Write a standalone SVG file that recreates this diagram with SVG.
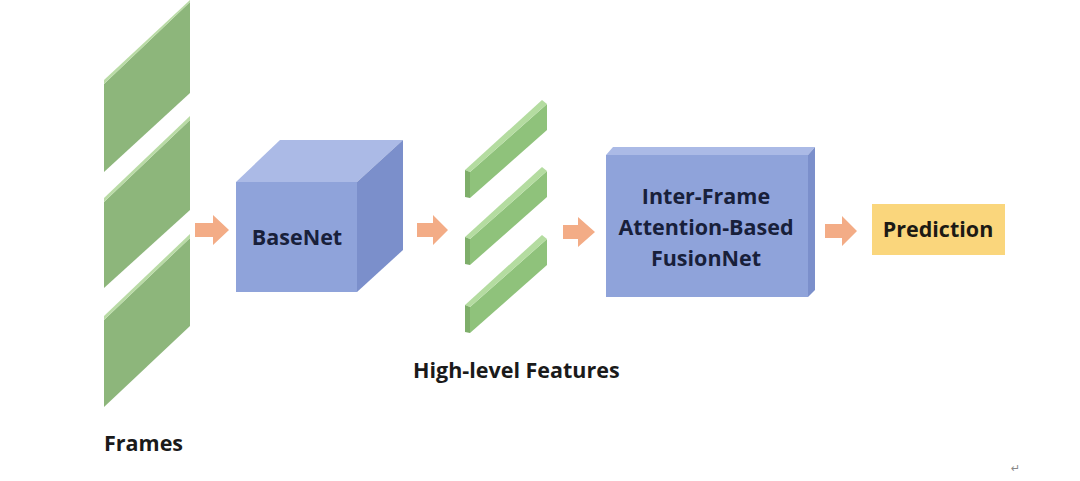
<svg xmlns="http://www.w3.org/2000/svg" width="1080" height="481" viewBox="0 0 1080 481">
  <style>
    .lbl { font-family: "Open Sans", "Liberation Sans", sans-serif; font-weight: 700; font-size: 21.5px; fill: #1a1a1a; }
    .boxlbl { font-family: "Open Sans", "Liberation Sans", sans-serif; font-weight: 700; font-size: 21.5px; fill: #18203a; text-anchor: middle; }
    .frame { fill: #8db67b; }
    .frame-edge { fill: #b9dba5; }
    .bar { fill: #8fc27b; }
    .bar-top { fill: #b4dca0; }
    .bar-end { fill: #7eae6a; }
    .front { fill: #8fa3da; }
    .top { fill: #abbae6; }
    .side { fill: #7b8fcb; }
    .arrow { fill: #f3ac86; }
  </style>
  <rect width="1080" height="481" fill="#ffffff"/>

  <g id="frames">
    <polygon class="frame" points="104,84 190,2 190,93 104,172"/>
    <polygon class="frame-edge" points="104,84 190,2 190,0 104,80"/>
    <polygon class="frame" points="104,202 190,120 190,210 104,288"/>
    <polygon class="frame-edge" points="104,202 190,120 190,116 104,198"/>
    <polygon class="frame" points="104,320 190,238 190,326 104,407"/>
    <polygon class="frame-edge" points="104,320 190,238 190,234 104,316"/>
  </g>

  <g id="basenet">
    <polygon class="front" points="236,182 357,182 357,292 236,292"/>
    <polygon class="top" points="236,182 280,140 403,140 357,182"/>
    <polygon class="side" points="357,182 403,140 403,250 357,292"/>
    <text class="boxlbl" x="297" y="245">BaseNet</text>
  </g>

  <g id="features">
    <polygon class="bar" points="470,172 547,104 547,130 470,198"/>
    <polygon class="bar-top" points="465,170 542,100 547,104 470,172"/>
    <polygon class="bar-end" points="465,170 470,172 470,198 465,197"/>

    <polygon class="bar" points="470,239 547,171 547,197 470,265"/>
    <polygon class="bar-top" points="465,237 542,167 547,171 470,239"/>
    <polygon class="bar-end" points="465,237 470,239 470,265 465,264"/>

    <polygon class="bar" points="470,307 547,239 547,265 470,333"/>
    <polygon class="bar-top" points="465,305 542,235 547,239 470,307"/>
    <polygon class="bar-end" points="465,305 470,307 470,333 465,332"/>
  </g>

  <g id="fusionnet">
    <polygon class="front" points="606,155 808,155 808,297 606,297"/>
    <polygon class="top" points="606,155 613,147 815,147 808,155"/>
    <polygon class="side" points="808,155 815,147 815,290 808,297"/>
    <text class="boxlbl" x="706" y="204">Inter-Frame</text>
    <text class="boxlbl" x="706" y="235">Attention-Based</text>
    <text class="boxlbl" x="706" y="266">FusionNet</text>
  </g>

  <g id="prediction">
    <rect x="872" y="204" width="133" height="51" fill="#fad67c"/>
    <text class="boxlbl" x="938" y="237" style="fill:#1c1a14">Prediction</text>
  </g>

  <g id="connectors">
    <polygon class="arrow" points="195,223 213,223 213,215 229,230 213,245 213,237 195,237"/>
    <polygon class="arrow" points="417,223 433,223 433,215 448,230 433,245 433,237 417,237"/>
    <polygon class="arrow" points="563,225 578,225 578,217 595,232 578,247 578,239 563,239"/>
    <polygon class="arrow" points="825,224 842,224 842,216 857,231 842,246 842,238 825,238"/>
  </g>

  <g id="labels">
    <text class="lbl" x="104" y="451">Frames</text>
    <text class="lbl" x="413" y="378">High-level Features</text>
    <text x="1011" y="472" style="font-family:'DejaVu Sans',sans-serif;font-size:11px;fill:#888888">↵</text>
  </g>
</svg>
